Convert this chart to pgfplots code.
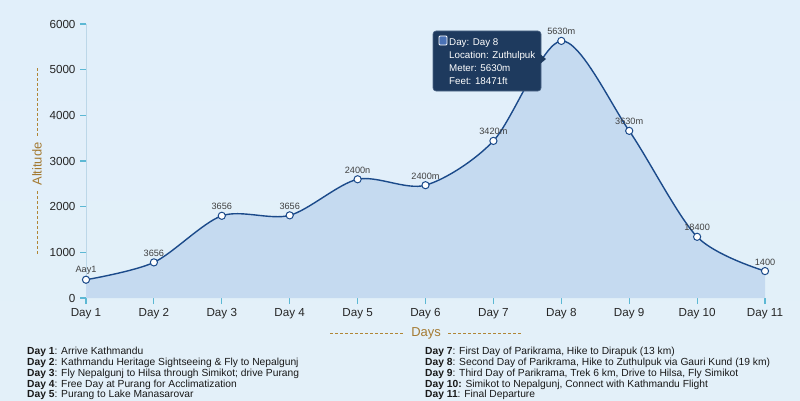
\documentclass[border=0pt]{standalone}
\usepackage{pgfplots}
\pgfplotsset{compat=1.18}
\usepackage{fontspec}
\setmainfont{Liberation Sans}
\definecolor{bgtop}{HTML}{E1EFFA}
\definecolor{bgbot}{HTML}{E3F0F9}
\definecolor{areac}{HTML}{C5DAF0}
\definecolor{linec}{HTML}{1B4A8A}
\definecolor{tickc}{HTML}{5CB8D4}
\definecolor{yaxc}{HTML}{BCD7E8}
\definecolor{labc}{HTML}{A47A32}
\definecolor{dashc}{HTML}{B08636}
\definecolor{tipc}{HTML}{1E3A5E}
\definecolor{tipb}{HTML}{4E6788}
\definecolor{sqc}{HTML}{4A72B5}
\pgfplotstableread{
x y label
1 400 Aay1
2 780 3656
3 1800 3656
4 1810 3656
5 2600 2400n
6 2470 2400m
7 3440 3420m
8 5630 5630m
9 3660 3630m
10 1340 18400
11 590 1400
}\alt
\begin{document}
\begin{tikzpicture}[x=1bp,y=1bp]
\useasboundingbox (0,0) rectangle (800,400);
\shade[top color=bgtop, bottom color=bgbot] (0,0) rectangle (800,400);
\begin{axis}[
  at={(86bp,102bp)}, anchor=south west,
  scale only axis, width=679bp, height=274bp,
  xmin=1, xmax=11, ymin=0, ymax=6000,
  clip=false,
  axis x line*=bottom, axis y line*=left,
  x axis line style={draw=none},
  y axis line style={draw=yaxc, line width=0.8bp},
  xtick={1,...,11},
  xticklabels={Day 1,Day 2,Day 3,Day 4,Day 5,Day 6,Day 7,Day 8,Day 9,Day 10,Day 11},
  ytick={0,1000,...,6000},
  tick align=outside,
  major tick length=6bp,
  every tick/.style={draw=tickc, line width=1.1bp},
  tick label style={font=\fontsize{11.7}{13}\selectfont, text=black!85},
  /pgf/number format/assume math mode=true,
  /pgf/number format/1000 sep={},
  xticklabel style={yshift=-1bp},
  yticklabel style={xshift=-1bp},
]
\addplot[draw=none, fill=areac, smooth] table[x=x,y=y] {\alt} \closedcycle;
\addplot[smooth, color=linec, line width=1.4bp,
  mark=*, mark size=3.6bp, mark options={fill=white, draw=linec, line width=1bp},
  nodes near coords, point meta=explicit symbolic,
  every node near coord/.style={font=\fontsize{9.2}{10}\selectfont, text=black!75, anchor=south, yshift=2bp}]
  table[x=x,y=y,meta=label] {\alt};
\end{axis}
% axis titles
\node[rotate=90, text=labc, font=\fontsize{13}{14}\selectfont] at (37,236) {Altitude};
\draw[dashc, line width=0.9bp, dash pattern=on 3bp off 2bp] (37,332) -- (37,262);
\draw[dashc, line width=0.9bp, dash pattern=on 3bp off 2bp] (37,209) -- (37,145);
\node[text=labc, font=\fontsize{13}{14}\selectfont] at (426,67) {Days};
\draw[dashc, line width=0.9bp, dash pattern=on 3bp off 2bp] (330,67) -- (405,67);
\draw[dashc, line width=0.9bp, dash pattern=on 3bp off 2bp] (448,67) -- (521,67);
% tooltip
\filldraw[fill=tipc, draw=tipb, line width=0.6bp, rounded corners=3bp] (433,369) rectangle (541,309);
\fill[tipc] (540,346) -- (546,341) -- (540,336) -- cycle;
\filldraw[fill=sqc, draw=white, line width=0.8bp, rounded corners=1bp] (439,355) rectangle (447,364);
\begin{scope}[every node/.style={anchor=base west, text=white, font=\fontsize{9.8}{11}\selectfont, inner sep=0pt}]
\node at (449,355) {Day: Day 8};
\node at (449,342) {Location: Zuthulpuk};
\node at (449,329) {Meter: 5630m};
\node at (449,316) {Feet: 18471ft};
\end{scope}
% itinerary
\begin{scope}[every node/.style={anchor=base west, text=black!90, font=\fontsize{10.3}{11}\selectfont, inner sep=0pt}]
\node at (27,46) {\textbf{Day 1}: Arrive Kathmandu};
\node at (27,35) {\textbf{Day 2}: Kathmandu Heritage Sightseeing \& Fly to Nepalgunj};
\node at (27,24) {\textbf{Day 3}: Fly Nepalgunj to Hilsa through Simikot; drive Purang};
\node at (27,13) {\textbf{Day 4}: Free Day at Purang for Acclimatization};
\node at (27,2.5) {\textbf{Day 5}: Purang to Lake Manasarovar};
\node at (425,46) {\textbf{Day 7}: First Day of Parikrama, Hike to Dirapuk (13 km)};
\node at (425,35) {\textbf{Day 8}: Second Day of Parikrama, Hike to Zuthulpuk via Gauri Kund (19 km)};
\node at (425,24) {\textbf{Day 9}: Third Day of Parikrama, Trek 6 km, Drive to Hilsa, Fly Simikot};
\node at (425,13) {\textbf{Day 10:} Simikot to Nepalgunj, Connect with Kathmandu Flight};
\node at (425,2.5) {\textbf{Day 11}: Final Departure};
\end{scope}
\end{tikzpicture}
\end{document}
